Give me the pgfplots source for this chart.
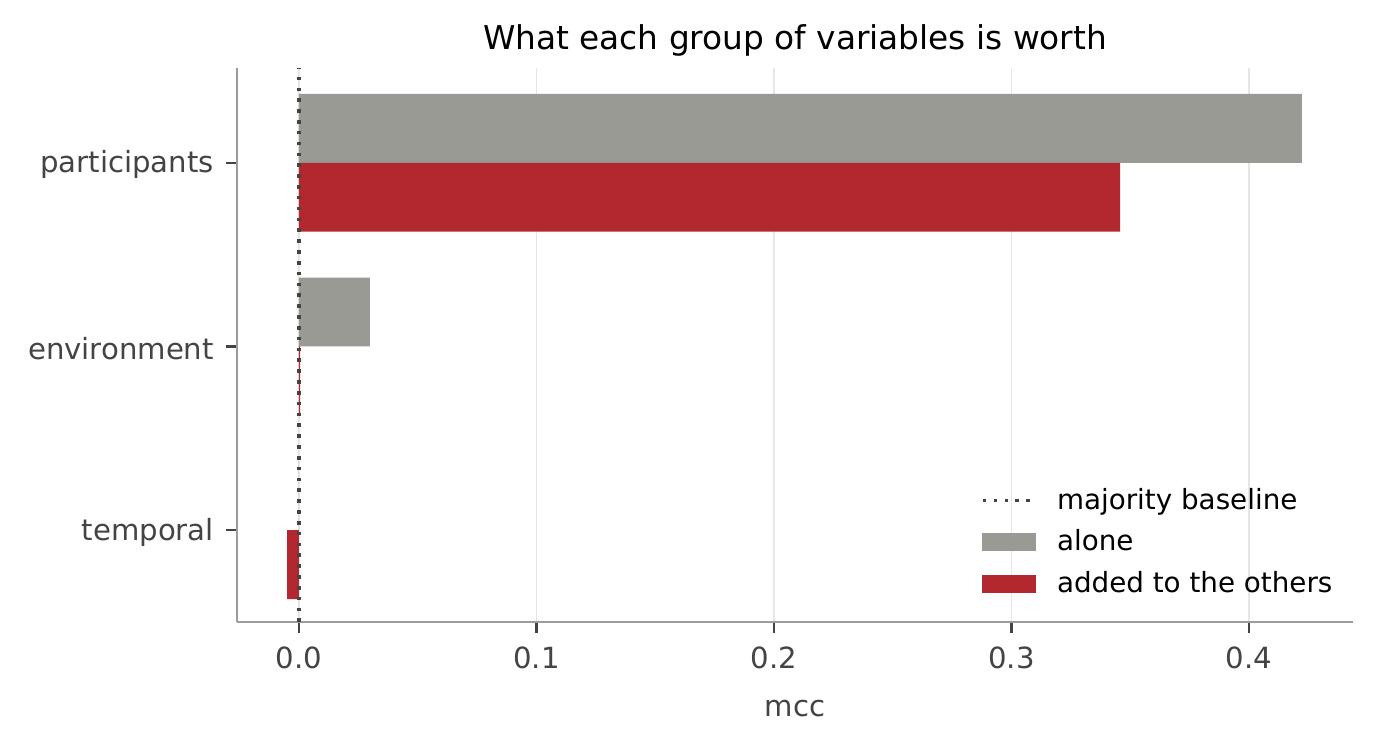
\documentclass[border=0pt]{standalone}
\usepackage{pgfplots}
\pgfplotsset{compat=1.18}
\usepackage{fontspec}
\setmainfont{DejaVu Sans}
\definecolor{barGray}{HTML}{9A9A94}
\definecolor{barRed}{HTML}{B3282F}
\definecolor{txtGray}{HTML}{444444}
\definecolor{spineGray}{HTML}{9C9C9C}
\definecolor{gridGray}{HTML}{E6E6E6}
\begin{document}
\begin{tikzpicture}
\path[use as bounding box] (-85.32pt,-43.92pt) rectangle (410.04pt,223.92pt);
\begin{axis}[
  at={(0,0)}, anchor=south west,
  scale only axis,
  width=401.76pt, height=199.44pt,
  xmin=-0.0261, xmax=0.4438,
  ymin=-0.5, ymax=2.516,
  axis x line*=bottom, axis y line*=left,
  axis line style={draw=spineGray, line width=0.9pt, -},
  tick align=outside,
  major tick length=3.8pt,
  tick style={draw=txtGray, line width=0.8pt},
  xtick={0,0.1,0.2,0.3,0.4},
  ytick={0,1,2},
  yticklabels={temporal,environment,participants},
  ticklabel style={font=\fontsize{10.5}{12}\selectfont, text=txtGray},
  yticklabel style={yshift=-0.7pt, xshift=-1pt},
  xticklabel style={yshift=-1.5pt, /pgf/number format/.cd, fixed, fixed zerofill, precision=1, assume math mode=true},
  xmajorgrids,
  grid style={draw=gridGray, line width=0.7pt},
  xlabel={mcc},
  xlabel style={font=\fontsize{10.5}{12}\selectfont, text=txtGray, yshift=-4.5pt},
  title={What each group of variables is worth},
  title style={font=\fontsize{11.8}{14}\selectfont, text=black, yshift=-5.5pt},
  legend style={draw=none, fill=none, at={(0.9995,0.025)}, anchor=south east,
    font=\fontsize{10}{12}\selectfont, row sep=1.9pt,
    nodes={inner xsep=4pt},
    /tikz/every odd column/.append style={column sep=3.5pt},
    legend cell align=left},
]
\addlegendimage{legend image code/.code={\draw[txtGray, line width=1.3pt, dash pattern=on 1.3pt off 2.6pt] (0pt,0pt) -- (18pt,0pt);}}
\addlegendentry{majority baseline}
\addlegendimage{legend image code/.code={\fill[barGray] (0pt,-3pt) rectangle (19pt,3pt);}}
\addlegendentry{alone}
\addlegendimage{legend image code/.code={\fill[barRed] (0pt,-3pt) rectangle (19pt,3pt);}}
\addlegendentry{added to the others}
\addplot[xbar, fill=barGray, draw=none, bar width=0.375, bar shift=0, forget plot]
  coordinates {(0.4223,2.1875) (0.0299,1.1875) (0.0,0.1875)};
\addplot[xbar, fill=barRed, draw=none, bar width=0.375, bar shift=0, forget plot]
  coordinates {(0.3457,1.8125) (0.0005,0.8125) (-0.005,-0.1875)};
\addplot[draw=txtGray, line width=1.3pt, dash pattern=on 1.3pt off 2.6pt, forget plot]
  coordinates {(0,-0.5) (0,2.516)};
\end{axis}
\end{tikzpicture}
\end{document}
